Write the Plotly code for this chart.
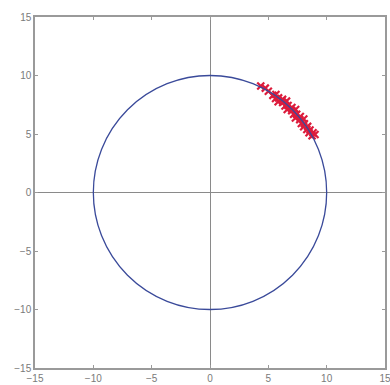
import plotly.graph_objects as go

# Data
pts_x = [4.35, 4.74, 5.00, 5.39, 5.65, 5.62, 5.88, 5.84, 6.22, 6.23, 6.56, 6.43, 6.69, 6.62, 7.02,
         7.00, 7.34, 7.17, 7.43, 7.32, 7.74, 7.69, 8.04, 7.83, 8.09, 8.03, 8.37, 8.30, 8.57,
         8.49, 8.83, 8.75, 9.0]
pts_y = [9.10, 8.92, 8.66, 8.30, 8.37, 8.03, 8.09, 7.75, 7.96, 7.69, 7.81, 7.40, 7.43, 7.09, 7.27,
         7.00, 7.09, 6.68, 6.69, 6.36, 6.49, 6.23, 6.28, 5.90, 5.88, 5.62, 5.65, 5.39, 5.35,
         5.10, 5.10, 4.85, 4.95]
circle_radius = 10
axis_range = [-15, 15]
tick_vals = [-15, -10, -5, 0, 5, 10, 15]

fig = go.Figure()
fig.add_shape(type="circle", xref="x", yref="y",
              x0=-circle_radius, y0=-circle_radius, x1=circle_radius, y1=circle_radius,
              line=dict(color="#3a4a9a", width=1.3))
fig.add_trace(go.Scatter(x=pts_x, y=pts_y, mode="markers",
                         marker=dict(symbol="x-thin", size=7,
                                     line=dict(color="#dc1c3c", width=2.2)),
                         showlegend=False))

axis_common = dict(range=axis_range, tickvals=tick_vals, showgrid=False, automargin=False,
                   zeroline=True, zerolinecolor="#8a8a8a", zerolinewidth=1,
                   showline=True, linecolor="#9a9a9a", linewidth=1.5, mirror="ticks",
                   ticks="inside", ticklen=3, tickcolor="#9a9a9a",
                   ticklabeloverflow="allow",
                   tickfont=dict(family="Liberation Sans", size=10, color="#7a7a7a"))

fig.update_layout(width=390, height=385, margin=dict(l=35, r=5, t=17, b=17),
                  paper_bgcolor="white", plot_bgcolor="white",
                  xaxis=axis_common, yaxis=axis_common)
fig.write_html("out.html", config={"displayModeBar": False},
               post_script="document.body.style.margin='0';")
